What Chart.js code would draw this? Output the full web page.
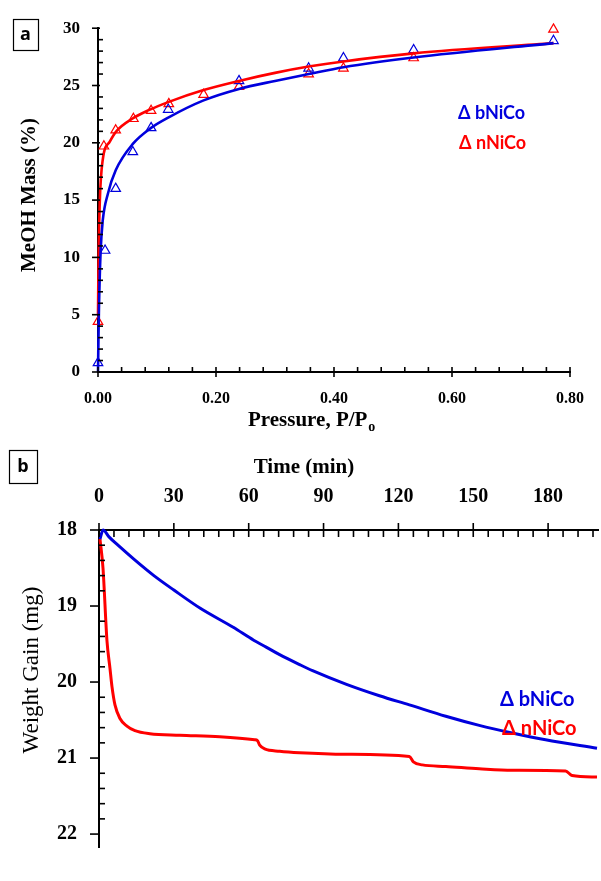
<!DOCTYPE html>
<html>
<head>
<meta charset="utf-8">
<script src="https://cdn.jsdelivr.net/npm/chart.js@4.4.1/dist/chart.umd.min.js"></script>
<style>
html, body { margin: 0; padding: 0; background: #fff; }
#wrap { position: relative; width: 601px; height: 881px; }
#isoBox { position: absolute; left: 0; top: 0; width: 601px; height: 440px; }
#kinBox { position: absolute; left: 0; top: 440px; width: 601px; height: 441px; }
</style>
</head>
<body>
<div id="wrap">
  <div id="isoBox"><canvas id="iso" width="601" height="440"></canvas></div>
  <div id="kinBox"><canvas id="kin" width="601" height="441"></canvas></div>
</div>
<script>
// ---- (a) MeOH isotherm: measured points ----
const pressB = [0.000, 0.012, 0.030, 0.059, 0.090, 0.119, 0.239, 0.357, 0.416, 0.535, 0.772];
const massB  = [0.8, 10.6, 16.0, 19.2, 21.3, 22.9, 25.4, 26.5, 27.4, 28.1, 28.9];
const pressN = [0.000, 0.010, 0.030, 0.060, 0.090, 0.120, 0.179, 0.239, 0.357, 0.416, 0.535, 0.772];
const massN  = [4.4, 19.7, 21.1, 22.1, 22.8, 23.4, 24.2, 24.9, 26.0, 26.5, 27.4, 29.9];

// ---- (a) fitted curves ----
const fitPressB = [0, 0.0008, 0.0016, 0.0045, 0.008, 0.017, 0.03, 0.059, 0.09, 0.119, 0.179, 0.239, 0.30, 0.357, 0.416, 0.535, 0.772];
const fitMassB  = [0, 3.0, 5.5, 10.6, 13.2, 15.6, 17.6, 19.9, 21.3, 22.2, 23.7, 24.7, 25.4, 26.0, 26.6, 27.45, 28.7];
const fitPressN = [0, 0.001, 0.003, 0.008, 0.02, 0.031, 0.058, 0.086, 0.119, 0.179, 0.239, 0.30, 0.357, 0.416, 0.535, 0.772];
const fitMassN  = [5.0, 10.0, 14.8, 18.5, 20.1, 21.0, 22.1, 22.85, 23.55, 24.6, 25.4, 26.1, 26.65, 27.1, 27.8, 28.7];

// ---- (b) weight vs time ----
const timeB   = [0.4, 1.6, 4, 7.6, 14.2, 22, 30, 40.6, 53.8, 62, 67, 72.4, 80.4, 85.6, 99.2, 112.4, 124.4, 139, 152.4, 165.6, 179, 199.6];
const weightB = [18.12, 18.0, 18.09, 18.2, 18.39, 18.6, 18.79, 19.03, 19.28, 19.45, 19.54, 19.64, 19.77, 19.85, 20.03, 20.18, 20.3, 20.45, 20.57, 20.67, 20.76, 20.87];
const timeN   = [0.4, 1.6, 3.2, 4.4, 5.2, 6.4, 8.4, 11.2, 14.4, 20.4, 32.4, 48.4, 62.4, 63.5, 64.4, 66.4, 72.4, 80.4, 99.2, 124.4, 126, 129.6, 139, 152.4, 165.6, 187, 189.6, 199.6];
const weightN = [18.12, 18.5, 19.46, 19.82, 20.06, 20.3, 20.48, 20.58, 20.64, 20.68, 20.7, 20.72, 20.76, 20.77, 20.83, 20.88, 20.91, 20.93, 20.95, 20.98, 21.05, 21.09, 21.11, 21.14, 21.16, 21.17, 21.23, 21.25];

const BLUE = '#0000dd';
const RED = '#ff0000';

function pts(xs, ys) {
    return xs.map(function(x, i) { return { x: x, y: ys[i] }; });
}

// minor / major tick marks drawn along the axis lines
const axisMarks = {
    id: 'axisMarks',
    afterDraw: function(chart, args, opts) {
        const ctx = chart.ctx;
        ctx.save();
        ctx.strokeStyle = '#000';
        ctx.lineWidth = 1.6;
        (opts.marks || []).forEach(function(m) {
            const sc = chart.scales[m.id];
            const horiz = sc.isHorizontal();
            let base, dir;
            if (horiz) {
                base = sc.position === 'top' ? chart.chartArea.top : chart.chartArea.bottom;
                dir = sc.position === 'top' ? 1 : -1;
            } else {
                base = chart.chartArea.left;
                dir = 1;
            }
            const n = Math.floor((sc.max - sc.min) / m.minor + 1e-6);
            for (let k = 0; k <= n; k++) {
                const v = sc.min + k * m.minor;
                const isMajor = Math.abs(v / m.major - Math.round(v / m.major)) < 1e-6;
                const inLen = isMajor ? m.majorIn : m.minorIn;
                const outLen = isMajor ? m.majorOut : 0;
                const p = sc.getPixelForValue(v);
                ctx.beginPath();
                if (horiz) {
                    ctx.moveTo(p, base - dir * outLen);
                    ctx.lineTo(p, base + dir * inLen);
                } else {
                    ctx.moveTo(base - outLen, p);
                    ctx.lineTo(base + inLen, p);
                }
                ctx.stroke();
            }
        });
        ctx.restore();
    }
};

// panel letter, axis titles and coloured legend text
const panelText = {
    id: 'panelText',
    afterDraw: function(chart, args, opts) {
        const ctx = chart.ctx;
        ctx.save();
        if (opts.box) {
            const b = opts.box;
            ctx.strokeStyle = '#000';
            ctx.lineWidth = 1.2;
            ctx.strokeRect(b.x + 0.5, b.y + 0.5, b.w, b.h);
            ctx.fillStyle = '#000';
            ctx.font = 'bold 18px "Open Sans"';
            ctx.textAlign = 'center';
            ctx.textBaseline = 'middle';
            ctx.fillText(b.text, b.x + b.w / 2, b.y + b.h / 2);
        }
        (opts.items || []).forEach(function(t) {
            ctx.save();
            ctx.translate(t.x, t.y);
            if (t.rotate) ctx.rotate(t.rotate);
            ctx.fillStyle = t.color || '#000';
            ctx.font = t.font;
            ctx.textAlign = t.align || 'center';
            ctx.textBaseline = 'middle';
            ctx.fillText(t.text, 0, 0);
            if (t.sub) {
                const w = ctx.measureText(t.text).width;
                ctx.font = t.subFont;
                ctx.textAlign = 'left';
                ctx.fillText(t.sub, (t.align === 'left' ? w : w / 2) + 1, 6);
            }
            ctx.restore();
        });
        ctx.restore();
    }
};

Chart.register(axisMarks, panelText);

// ---------------- (a) isotherm ----------------
new Chart(document.getElementById('iso'), {
    type: 'scatter',
    data: {
        datasets: [
            {
                label: 'bNiCo fit',
                data: pts(fitPressB, fitMassB),
                showLine: true,
                borderColor: BLUE,
                borderWidth: 2.6,
                pointRadius: 0,
                cubicInterpolationMode: 'monotone',
                clip: false
            },
            {
                label: 'nNiCo fit',
                data: pts(fitPressN, fitMassN),
                showLine: true,
                borderColor: RED,
                borderWidth: 2.6,
                pointRadius: 0,
                cubicInterpolationMode: 'monotone',
                clip: false
            },
            {
                label: 'bNiCo',
                data: pts(pressB, massB),
                pointStyle: 'triangle',
                pointRadius: 5.5,
                borderColor: BLUE,
                borderWidth: 1.2,
                backgroundColor: 'rgba(0,0,0,0)',
                clip: false
            },
            {
                label: 'nNiCo',
                data: pts(pressN, massN),
                pointStyle: 'triangle',
                pointRadius: 5.5,
                borderColor: RED,
                borderWidth: 1.2,
                backgroundColor: 'rgba(0,0,0,0)',
                clip: false
            }
        ]
    },
    options: {
        responsive: false,
        animation: false,
        devicePixelRatio: 1,
        layout: { padding: { left: 0, top: 23, right: 17, bottom: 0 } },
        scales: {
            x: {
                type: 'linear',
                min: 0,
                max: 0.8,
                grid: { display: false, drawTicks: false },
                border: { display: true, color: '#000', width: 2 },
                ticks: {
                    stepSize: 0.2,
                    padding: 17,
                    color: '#000',
                    font: { family: 'Liberation Serif', size: 16, weight: 'bold' },
                    callback: function(v) { return v.toFixed(2); }
                },
                afterFit: function(s) { s.height = 68; }
            },
            y: {
                min: 0,
                max: 30,
                grid: { display: false, drawTicks: false },
                border: { display: true, color: '#000', width: 2 },
                ticks: {
                    stepSize: 5,
                    padding: 18,
                    color: '#000',
                    font: { family: 'Liberation Serif', size: 17, weight: 'bold' }
                },
                afterFit: function(s) { s.width = 98; }
            }
        },
        plugins: {
            legend: { display: false },
            tooltip: { enabled: false },
            axisMarks: {
                marks: [
                    { id: 'x', minor: 0.04, major: 0.2, majorOut: 5, majorIn: 5, minorIn: 5 },
                    { id: 'y', minor: 1, major: 5, majorOut: 6, majorIn: 2, minorIn: 5 }
                ]
            },
            panelText: {
                box: { x: 13, y: 19, w: 25, h: 31, text: 'a' },
                items: [
                    { text: 'MeOH Mass (%)', x: 30, y: 195, rotate: -Math.PI / 2, font: 'bold 21px "Liberation Serif"' },
                    { text: 'Pressure, P/P', sub: 'o', x: 248, y: 421, align: 'left',
                      font: 'bold 21px "Liberation Serif"', subFont: 'bold 14px "Liberation Serif"' },
                    { text: 'Δ bNiCo', x: 458, y: 113, align: 'left', color: BLUE, font: 'bold 18px Lato' },
                    { text: 'Δ nNiCo', x: 459, y: 143, align: 'left', color: RED, font: 'bold 18px Lato' }
                ]
            }
        }
    }
});

// ---------------- (b) kinetics ----------------
new Chart(document.getElementById('kin'), {
    type: 'scatter',
    data: {
        datasets: [
            {
                label: 'bNiCo',
                data: pts(timeB, weightB),
                showLine: true,
                borderColor: BLUE,
                borderWidth: 3,
                pointRadius: 0,
                cubicInterpolationMode: 'monotone',
                clip: false
            },
            {
                label: 'nNiCo',
                data: pts(timeN, weightN),
                showLine: true,
                borderColor: RED,
                borderWidth: 3,
                pointRadius: 0,
                cubicInterpolationMode: 'monotone',
                clip: false
            }
        ]
    },
    options: {
        responsive: false,
        animation: false,
        devicePixelRatio: 1,
        layout: { padding: { left: 0, top: 0, right: 3, bottom: 0 } },
        scales: {
            x: {
                type: 'linear',
                position: 'top',
                min: 0,
                max: 200,
                grid: { display: false, drawTicks: false },
                border: { display: true, color: '#000', width: 2 },
                ticks: {
                    stepSize: 30,
                    includeBounds: false,
                    padding: 21,
                    color: '#000',
                    font: { family: 'Liberation Serif', size: 20, weight: 'bold' }
                },
                afterFit: function(s) { s.height = 90; }
            },
            y: {
                reverse: true,
                min: 18,
                max: 22.17,
                grid: { display: false, drawTicks: false },
                border: { display: true, color: '#000', width: 2 },
                ticks: {
                    stepSize: 1,
                    includeBounds: false,
                    padding: 22,
                    color: '#000',
                    font: { family: 'Liberation Serif', size: 20, weight: 'bold' }
                },
                afterFit: function(s) { s.width = 99; }
            }
        },
        plugins: {
            legend: { display: false },
            tooltip: { enabled: false },
            axisMarks: {
                marks: [
                    { id: 'x', minor: 6, major: 30, majorOut: 7, majorIn: 7, minorIn: 7 },
                    { id: 'y', minor: 0.2, major: 1, majorOut: 9, majorIn: 0, minorIn: 6 }
                ]
            },
            panelText: {
                box: { x: 9, y: 10, w: 28, h: 33, text: 'b' },
                items: [
                    { text: 'Time (min)', x: 304, y: 28, font: 'bold 21px "Liberation Serif"' },
                    { text: 'Weight Gain (mg)', x: 32, y: 230, rotate: -Math.PI / 2, font: '23px "Liberation Serif"' },
                    { text: 'Δ bNiCo', x: 500, y: 260, align: 'left', color: BLUE, font: 'bold 20px Lato' },
                    { text: 'Δ nNiCo', x: 502, y: 289, align: 'left', color: RED, font: 'bold 20px Lato' }
                ]
            }
        }
    }
});
</script>
</body>
</html>
